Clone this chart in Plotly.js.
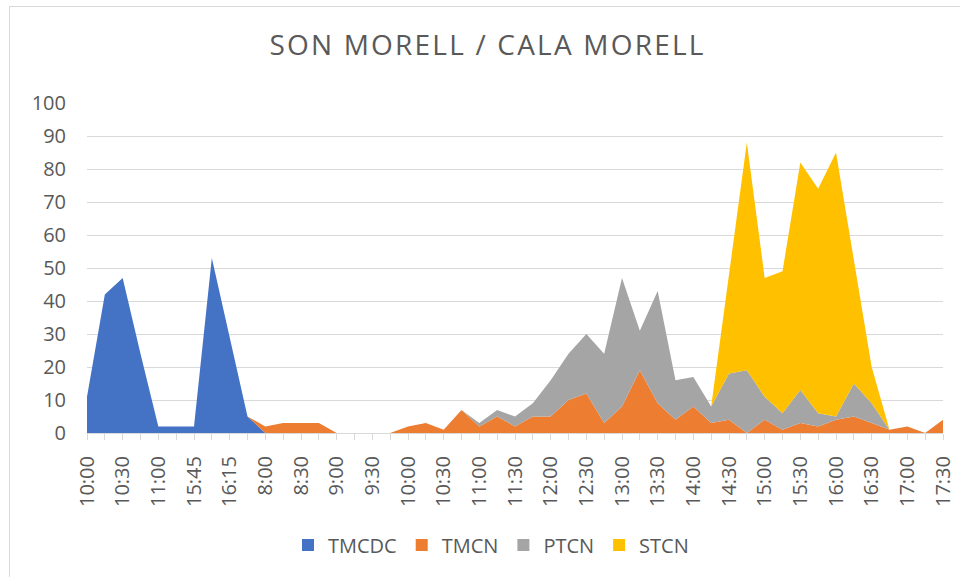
<!DOCTYPE html>
<html>
<head>
<meta charset="utf-8">
<script src="https://cdn.plot.ly/plotly-3.0.1.min.js"></script>
<style>
  html, body { margin: 0; padding: 0; background: #ffffff; overflow: hidden; }
  #frame { position: absolute; left: 9px; top: 6px; width: 2000px; height: 2000px; border: 1px solid #d9d9d9; z-index: 0; }
  #chart { position: absolute; left: 0; top: 0; width: 960px; height: 577px; z-index: 1; }
  .gtitle { letter-spacing: 2.2px; }
</style>
</head>
<body>
<div id="frame"></div>
<div id="chart"></div>
<script>
// Time-slot categories (labels repeat across sessions, so they are indexed by position)
const categories = [
  "10:00","10:15","10:30","10:45","11:00","15:30","15:45","16:00","16:15","16:30",
  "8:00","8:15","8:30","8:45","9:00","9:15","9:30","9:45","10:00","10:15",
  "10:30","10:45","11:00","11:15","11:30","11:45","12:00","12:15","12:30","12:45",
  "13:00","13:15","13:30","13:45","14:00","14:15","14:30","14:45","15:00","15:15",
  "15:30","15:45","16:00","16:15","16:30","16:45","17:00","17:15","17:30"
];

const TMCDC = [
  11,42,47,24,2,2,2,53,29,5,
  0,0,0,0,0,0,0,0,0,0,
  0,0,0,0,0,0,0,0,0,0,
  0,0,0,0,0,0,0,0,0,0,
  0,0,0,0,0,0,0,0,0
];
const TMCN = [
  0,0,0,0,0,0,0,0,0,0,
  2,3,3,3,0,0,0,0,2,3,
  1,7,2,5,2,5,5,10,12,3,
  8,19,9,4,8,3,4,0,4,1,
  3,2,4,5,3,1,2,0,4
];
const PTCN = [
  0,0,0,0,0,0,0,0,0,0,
  0,0,0,0,0,0,0,0,0,0,
  0,0,1,2,3,4,11,14,18,21,
  39,12,34,12,9,5,14,19,7,5,
  10,4,1,10,6,null,null,null,null
];
const STCN = [
  0,0,0,0,0,0,0,0,0,0,
  0,0,0,0,0,0,0,0,0,0,
  0,0,0,0,0,0,0,0,0,0,
  0,0,0,0,0,0,30,69,36,43,
  69,68,80,37,11,0,0,0,0
];

const seriesNames = ["TMCDC","TMCN","PTCN","STCN"];
const seriesColors = ["#4472C4","#ED7D31","#A5A5A5","#FFC000"];
const seriesData = [TMCDC, TMCN, PTCN, STCN];

const yTicks = [0,10,20,30,40,50,60,70,80,90,100];

const idx = categories.map((_, i) => i);
const tickText = categories.map((c, i) => (i % 2 === 0 ? c : ""));

const textColor = "#595959";
const fontFam = "'Open Sans', 'Liberation Sans', sans-serif";

const traces = [];
seriesData.forEach((ys, k) => {
  traces.push({
    type: "scatter",
    x: idx,
    y: ys,
    name: seriesNames[k],
    stackgroup: "one",
    mode: "lines",
    line: { width: 0, color: seriesColors[k] },
    fillcolor: seriesColors[k],
    showlegend: false,
    legendgroup: seriesNames[k],
    hoverinfo: "skip"
  });
});
// legend swatches
seriesNames.forEach((n, k) => {
  traces.push({
    type: "bar",
    x: [null],
    y: [null],
    name: n,
    marker: { color: seriesColors[k] },
    legendgroup: n,
    showlegend: true,
    hoverinfo: "skip"
  });
});

const layout = {
  width: 960,
  height: 577,
  margin: { l: 87, r: 17, t: 103, b: 144 },
  paper_bgcolor: "rgba(0,0,0,0)",
  plot_bgcolor: "rgba(0,0,0,0)",
  font: { family: fontFam, color: textColor, size: 20 },
  title: {
    text: "SON MORELL / CALA MORELL",
    font: { family: fontFam, size: 28, color: textColor },
    x: 0.5078, xref: "container", xanchor: "center",
    y: 1 - 45 / 577, yref: "container", yanchor: "middle"
  },
  xaxis: {
    type: "linear",
    range: [0, 48],
    tickmode: "array",
    tickvals: idx,
    ticktext: tickText,
    tickangle: -90,
    ticks: "outside",
    ticklen: 6,
    tickcolor: "#d9d9d9",
    tickwidth: 1,
    showline: true,
    linecolor: "#d9d9d9",
    linewidth: 1,
    showgrid: false,
    zeroline: false,
    tickfont: { family: fontFam, size: 20, color: textColor },
    ticklabelstandoff: 8,
    fixedrange: true
  },
  yaxis: {
    range: [0, 100],
    tickmode: "array",
    tickvals: yTicks,
    ticktext: yTicks.map(String),
    showgrid: true,
    gridcolor: "#d9d9d9",
    gridwidth: 1,
    zeroline: false,
    showline: false,
    ticks: "",
    tickfont: { family: fontFam, size: 20, color: textColor },
    ticklabelstandoff: 20,
    fixedrange: true
  },
  showlegend: true,
  legend: {
    orientation: "h",
    x: 491 / 960, xref: "container", xanchor: "center",
    y: 1 - 545 / 577, yref: "container", yanchor: "middle",
    font: { family: fontFam, size: 20, color: textColor },
    itemclick: false,
    itemdoubleclick: false
  },
  bargap: 0.2
};

Plotly.newPlot("chart", traces, layout, { displayModeBar: false, staticPlot: true });
</script>
</body>
</html>
